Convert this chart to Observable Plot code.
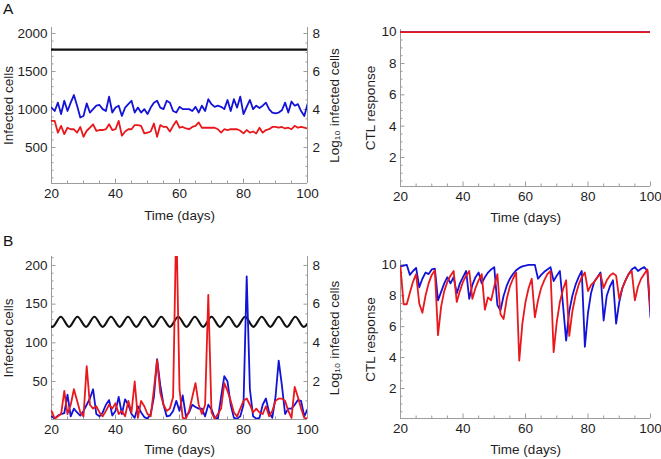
<!DOCTYPE html>
<html><head><meta charset="utf-8">
<script src="https://cdn.jsdelivr.net/npm/d3@7"></script>
<script src="https://cdn.jsdelivr.net/npm/@observablehq/plot@0.6"></script>
<style>
body{margin:0;background:#fff;}
#root{position:relative;width:661px;height:459px;overflow:hidden;font-family:"Liberation Sans",Arial,Helvetica,sans-serif;}
.panel{position:absolute;}
.tag{position:absolute;font-size:15.5px;color:#111;line-height:1;}
</style></head><body><div id="root"></div>
<script>
// ---- data ----
const days = d3.range(20, 101); // daily samples, day 20..100

// Panel A, infected cells (linear, left axis)
const blueA = [
  1025, 980,1090, 940,1115, 980,1090,1190,1050, 895,
   915,1080, 960,1005,1050,1060,1005, 980,1170, 960,
  1025,1050, 915,1025,1070,1115, 960,1025, 960,1005,
   940,1025,1090,1115,1025,1005,1115,1090, 980, 960,
  1035,1005,1005,1005, 980,1035, 960,1050, 980,1135,
  1070,1035,1050,1035,1005,1125, 980,1135,1025,1170,
   940,1035,1125,1005,1050,1020,1050,1090,1005, 960,
   950, 960, 990,1090, 960,1105,1050,1070, 980, 915,
  1070];
const redA = [
   850, 850, 695, 785, 675, 760, 740, 740, 695, 770,
   640, 720, 760, 805, 720, 730, 730, 740, 805, 730,
   740, 850, 655, 710, 740, 740, 795, 795, 785, 685,
   695, 710, 815, 640, 795, 770, 770, 710, 785, 850,
   760, 770, 750, 740, 770, 785, 830, 760, 760, 760,
   760, 760, 740, 695, 740, 730, 740, 740, 740, 720,
   685, 730, 695, 710, 685, 760, 695, 730, 740, 770,
   770, 760, 770, 750, 760, 740, 785, 760, 770, 760,
   750];
// Panel A, log10 total infected cells (right axis) — constant
const logTotalA = 7.15;
// Panel A, CTL response — both constant
const ctlBlueA = 10, ctlRedA = 10;

// Panel B, infected cells
const blueB = [
    5,   2,   6,   8,   9,  33,   5,  15,  10,   6,
   12,  20,  28,  40,   8,   5,  10,  20,  26,   6,
   12,  30,   8,  27,  20,   8,   3,  18,  10,   4,
    2,   8,  30,  79,  45,  20,   5,   6,  12,  25,
   12,  32,   5,  10,  20,  17,  15,  15,   5,  20,
   14,   3,   2,  30,  57,  50,  20,   3,   2,   5,
   20, 186,  40,   5,   2,   3,  20,  28,  10,   3,
   30,  77,  45,   8,  15,  15,  20,  26,  25,   5,
   14];
const redB = [
   12,   2,   5,   8,  38,   8,  20,  40,  25,  10,
    5,  70,  20,  15,  18,  10,   5,  12,  20,  15,
   22,   8,  12,   5,  25,  10,  50,   3,  25,  18,
    8,   5,  40,  78,  35,  20,  12,  15,  30, 260,
   40,   3,   2,  12,  30,  48,  20,   8,  20, 162,
   10,   2,   8,  15,  48,  38,  25,  10,   5,  15,
   25,  28,  20,  10,  15,  10,   8,  18,   5,  12,
   25,  28,  28,  25,  12,   3,  43,  30,  15,   3,
    2];
// Panel B, log10 total infected cells: oscillation extrema (day, log10)
const waveDaysB = [20, 20.3, 22.9, 25.5, 28.1, 30.8, 33.4, 36.0, 38.6, 41.3, 43.9, 46.5, 49.1, 51.7, 54.3, 57.0,
  59.6, 62.2, 64.8, 67.4, 70.0, 72.6, 75.3, 77.9, 80.5, 83.1, 85.7, 88.4, 91.0, 93.6, 96.2, 98.8, 100];
const waveLogB = [4.84, 4.83, 5.35, 4.83, 5.35, 4.83, 5.35, 4.83, 5.35, 4.83, 5.35, 4.83, 5.35, 4.83, 5.35, 4.83,
  5.35, 4.83, 5.35, 4.83, 5.35, 4.83, 5.35, 4.83, 5.35, 4.83, 5.35, 4.83, 5.35, 4.83, 5.35, 4.83, 4.98];
// Panel B, CTL response
const ctlBlueB = [
  9.9, 9.95,10.0, 9.35, 9.6, 9.8, 8.55, 9.1, 9.5, 9.4,
  9.7, 9.75, 7.7, 8.25, 8.8, 9.2, 8.8, 9.2, 8.15, 8.8,
  9.2, 9.6, 7.8, 8.7, 9.2, 9.5, 8.8, 9.2, 9.5, 9.7,
  9.85, 7.4, 7.05, 8.0, 8.65, 9.1, 9.4, 9.65, 9.8, 9.9,
  9.95,10.0,10.0,10.0, 9.1, 9.35, 9.55, 9.7, 9.85, 8.95,
  9.3, 9.6, 7.4, 5.1, 7.0, 8.0, 8.7, 9.2, 9.6, 4.7,
  6.9, 8.2, 8.9, 9.2, 9.5, 6.4, 8.0, 8.6, 9.0, 6.2,
  7.6, 8.5, 9.0, 9.4, 9.7, 9.85, 9.6, 9.75, 9.85, 9.6,
  6.6];
const ctlRedB = [
  9.85, 7.45, 7.45, 8.2, 8.9, 9.4, 7.5, 6.9, 8.0, 8.8,
  9.35, 9.65, 5.45, 7.3, 8.3, 8.9, 9.3, 9.6, 7.6, 8.3,
  8.9, 9.3, 9.6, 7.8, 8.5, 9.0, 9.4, 7.1, 7.9, 7.7,
  8.6, 9.4, 6.8, 6.5, 7.8, 8.6, 9.1, 9.5, 3.8, 6.2,
  7.6, 8.5, 9.1, 6.6, 7.7, 8.5, 9.0, 9.4, 9.6, 4.35,
  6.3, 7.6, 8.4, 9.0, 5.4, 7.0, 8.0, 8.7, 9.2, 9.5,
  8.3, 8.7, 8.9, 9.2, 9.4, 8.5, 9.0, 9.3, 9.45, 9.3,
  7.8, 8.5, 9.0, 9.4, 9.6, 7.7, 8.6, 9.1, 9.4, 9.7,
  7.1];

// ticks
const xTicks = [20, 40, 60, 80, 100];
const xMinor = [25, 30, 35, 45, 50, 55, 65, 70, 75, 85, 90, 95];
const yTicksA = [500, 1000, 1500, 2000];
const yTicksB = [50, 100, 150, 200];
const logTicks = [2, 4, 6, 8];
const ctlTicks = [2, 4, 6, 8, 10];

// ---- styling ----
const FONT = "'Liberation Sans', Arial, Helvetica, sans-serif";
const AX = "#9c9c9c", TX = "#1e1e1e";
const BLUE = "#1212d8", RED = "#e8181c", BLACK = "#111";
const FS = 13.5;
const plain = d => String(d);

function rows(vals) { return days.map((t, i) => ({t, v: vals[i]})); }

function infectedPanel({w, h, m, yDomain, yTicks, yMinorStep, k, blue, red, black, blackCurve}) {
  const yMinor = d3.range(yMinorStep, yDomain[1], yMinorStep).filter(v => !yTicks.includes(v));
  const logMinor = d3.range(0.5, yDomain[1] / k, 0.5).filter(v => !logTicks.includes(v)).map(v => v * k);
  const {xLabelDy, ...margins} = m;
  return Plot.plot({
    width: w, height: h, ...margins,
    x: {domain: [20, 100], label: null},
    y: {domain: yDomain, label: null},
    style: {fontFamily: FONT, fontSize: FS + "px", color: TX, background: "transparent", overflow: "visible"},
    marks: [
      Plot.ruleX([20, 100], {stroke: AX, strokeWidth: 1}),
      Plot.ruleY([yDomain[0]], {stroke: AX, strokeWidth: 1}),
      Plot.axisX(xTicks, {tickSize: -4.5, tickPadding: 9.5, tickFormat: plain, stroke: AX, fill: TX, label: null}),
      Plot.axisX(xMinor, {tickSize: -2.5, tickFormat: () => "", stroke: AX, label: null}),
      Plot.axisY(yTicks, {anchor: "left", tickSize: -4.5, tickPadding: 8.5, tickFormat: plain, stroke: AX, fill: TX, label: null}),
      Plot.axisY(yMinor, {anchor: "left", tickSize: -2.5, tickFormat: () => "", stroke: AX, label: null}),
      Plot.axisY(logTicks.map(v => v * k), {anchor: "right", tickSize: -4.5, tickPadding: 9.5, tickFormat: d => String(d / k), stroke: AX, fill: TX, label: null}),
      Plot.axisY(logMinor, {anchor: "right", tickSize: -2.5, tickFormat: () => "", stroke: AX, label: null}),
      Plot.line(black, {x: "t", y: d => d.log * k, stroke: BLACK, strokeWidth: 2.2, curve: blackCurve, clip: true}),
      Plot.line(blue, {x: "t", y: "v", stroke: BLUE, strokeWidth: 1.8, clip: true}),
      Plot.line(red, {x: "t", y: "v", stroke: RED, strokeWidth: 1.8, clip: true}),
      Plot.text(["Infected cells"], {text: d => d, frameAnchor: "left", textAnchor: "middle", lineAnchor: "middle", rotate: -90, dx: -43, fill: TX, fontSize: FS}),
      Plot.text(["Log₁₀ infected cells"], {text: d => d, frameAnchor: "right", textAnchor: "middle", lineAnchor: "middle", rotate: -90, dx: 27, fill: TX, fontSize: FS}),
      Plot.text(["Time (days)"], {text: d => d, frameAnchor: "bottom", textAnchor: "middle", dy: xLabelDy, fill: TX, fontSize: FS})
    ]
  });
}

function ctlPanel({w, h, m, yDomain, blue, red}) {
  const yMinor = d3.range(0.5, yDomain[1], 0.5).filter(v => !ctlTicks.includes(v));
  const {xLabelDy, ...margins} = m;
  return Plot.plot({
    width: w, height: h, ...margins,
    x: {domain: [20, 100], label: null},
    y: {domain: yDomain, label: null},
    style: {fontFamily: FONT, fontSize: FS + "px", color: TX, background: "transparent", overflow: "visible"},
    marks: [
      Plot.ruleX([20], {stroke: AX, strokeWidth: 1}),
      Plot.ruleY([yDomain[0]], {stroke: AX, strokeWidth: 1}),
      Plot.axisX(xTicks, {tickSize: -4.5, tickPadding: 9.5, tickFormat: plain, stroke: AX, fill: TX, label: null}),
      Plot.axisX(xMinor, {tickSize: -2.5, tickFormat: () => "", stroke: AX, label: null}),
      Plot.axisY(ctlTicks, {anchor: "left", tickSize: -4.5, tickPadding: 8.5, tickFormat: plain, stroke: AX, fill: TX, label: null}),
      Plot.axisY(yMinor, {anchor: "left", tickSize: -2.5, tickFormat: () => "", stroke: AX, label: null}),
      Plot.line(blue, {x: "t", y: "v", stroke: BLUE, strokeWidth: 1.8, clip: true}),
      Plot.line(red, {x: "t", y: "v", stroke: RED, strokeWidth: 1.8, clip: true}),
      Plot.text(["CTL response"], {text: d => d, frameAnchor: "left", textAnchor: "middle", lineAnchor: "middle", rotate: -90, dx: -30, fill: TX, fontSize: FS}),
      Plot.text(["Time (days)"], {text: d => d, frameAnchor: "bottom", textAnchor: "middle", dy: xLabelDy, fill: TX, fontSize: FS})
    ]
  });
}

function place(node, left, top) {
  const d = document.createElement("div");
  d.className = "panel";
  d.style.left = left + "px"; d.style.top = top + "px";
  d.appendChild(node);
  document.getElementById("root").appendChild(d);
}
function tag(txt, left, top) {
  const d = document.createElement("div");
  d.className = "tag"; d.textContent = txt;
  d.style.left = left + "px"; d.style.top = top + "px";
  document.getElementById("root").appendChild(d);
}

// Panel A left
place(infectedPanel({
  w: 345, h: 230, m: {marginLeft: 51, marginRight: 38, marginTop: 27, marginBottom: 47, xLabelDy: 36.5},
  yDomain: [26, 2079], yTicks: yTicksA, yMinorStep: 100, k: 250,
  blue: rows(blueA), red: rows(redA),
  black: [{t: 20, log: logTotalA}, {t: 100, log: logTotalA}], blackCurve: "linear"
}), 0, 0);
// Panel A right
place(ctlPanel({
  w: 316, h: 230, m: {marginLeft: 55, marginRight: 11, marginTop: 29, marginBottom: 44, xLabelDy: 35.5},
  yDomain: [0.15, 10.17],
  blue: days.map(t => ({t, v: ctlBlueA})), red: days.map(t => ({t, v: ctlRedA}))
}), 345, 0);
// Panel B left
place(infectedPanel({
  w: 345, h: 229, m: {marginLeft: 51, marginRight: 38, marginTop: 26, marginBottom: 40, xLabelDy: 34},
  yDomain: [0.9, 211.6], yTicks: yTicksB, yMinorStep: 10, k: 25,
  blue: rows(blueB), red: rows(redB),
  black: waveDaysB.map((t, i) => ({t, log: waveLogB[i]})), blackCurve: "monotone-x"
}), 0, 230);
// Panel B right
place(ctlPanel({
  w: 316, h: 229, m: {marginLeft: 55, marginRight: 11, marginTop: 30, marginBottom: 41, xLabelDy: 35},
  yDomain: [0.06, 10.28],
  blue: rows(ctlBlueB), red: rows(ctlRedB)
}), 345, 230);
tag("A", 3, 1);
tag("B", 3, 233);
</script>
</body></html>
